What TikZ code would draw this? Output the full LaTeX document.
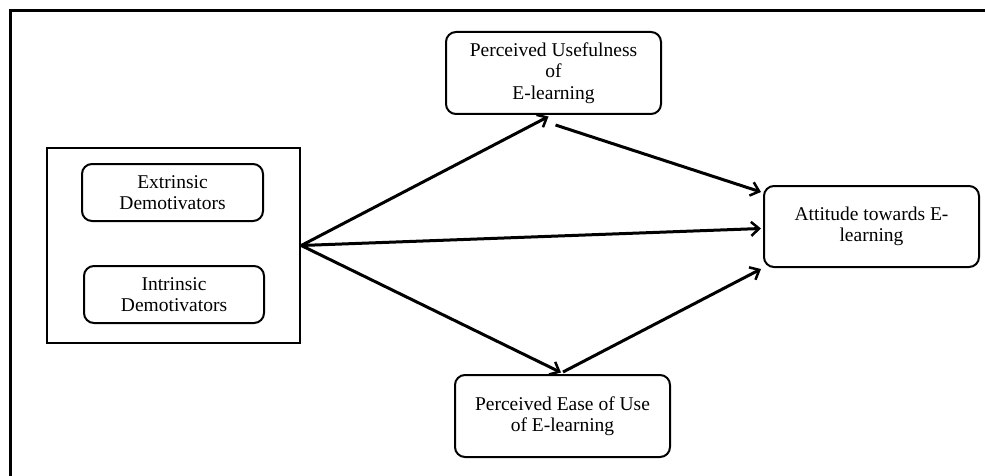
\documentclass[tikz,border=0pt]{standalone}
\usepackage{fontspec}
\setmainfont{Liberation Serif}
\usetikzlibrary{arrows.meta}

\begin{document}
\begin{tikzpicture}
					[x=1pt,y=-1pt,
					factor/.style={rectangle,rounded corners=10pt,draw=black,line width=2pt,align=center,inner sep=0pt,font=\fontsize{19.5}{21.5}\selectfont},
					group/.style={rectangle,draw=black,line width=2.5pt,inner sep=0pt},
					arr/.style={-{Straight Barb[length=8pt,width=14pt,line width=2.5pt]},line width=3pt}]
					\useasboundingbox (0,0) rectangle (985,476);
					\draw[line width=3pt] (10.5,476) -- (10.5,10.5) -- (985,10.5);
					\node[group,minimum width=253pt,minimum height=195pt] (demot) at (173.5,245.5) {};
					\node[factor,minimum width=181pt,minimum height=57pt] (extr) at (172.5,192.5) {Extrinsic\\Demotivators};
					\node[factor,minimum width=180pt,minimum height=57pt] (intr) at (174,294.5) {Intrinsic\\Demotivators};
					\node[factor,minimum width=215pt,minimum height=82pt] (pu) at (553.5,73) {Perceived Usefulness\\of\\E-learning};
					\node[factor,minimum width=215pt,minimum height=81pt] (att) at (871.5,226.5) {Attitude towards E-\\learning};
					\node[factor,minimum width=215pt,minimum height=82pt] (peou) at (562.5,416) {Perceived Ease of Use\\of E-learning};
					\path (demot.east) edge[arr] ([xshift=-5pt,yshift=-1.5pt]pu.south);
					\path (demot.east) edge[arr] ([xshift=-2pt,yshift=-2pt]att.west);
					\path (demot.east) edge[arr] ([xshift=-1.5pt,yshift=1.5pt]peou.north);
					\path ([xshift=2pt,yshift=-10pt]pu.south) edge[arr] ([xshift=-2pt,yshift=-7pt]att.north west);
					\path ([xshift=0.5pt,yshift=2pt]peou.north) edge[arr] ([xshift=-2pt,yshift=-1pt]att.south west);
				\end{tikzpicture}
\end{document}
